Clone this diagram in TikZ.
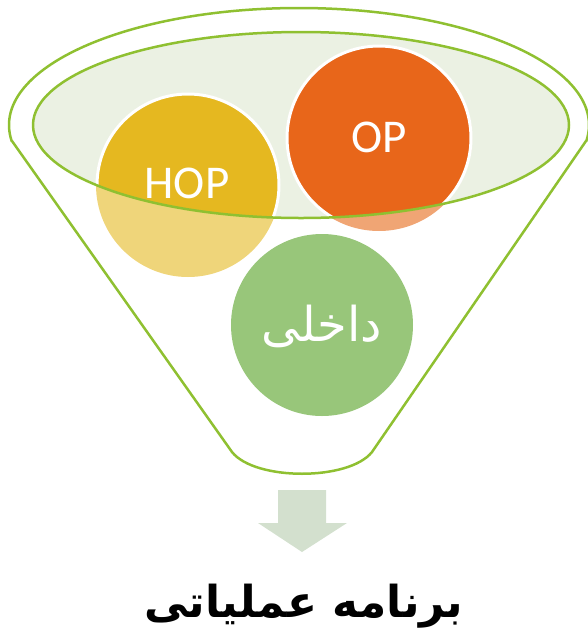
\documentclass[tikz,border=0pt]{standalone}
\usepackage{fontspec}
\setmainfont{Carlito}
\newfontfamily\arabicfont[Script=Arabic]{DejaVu Sans}
\TeXXeTstate=1
\definecolor{fgreen}{HTML}{8FC031}
\definecolor{efill}{HTML}{EBF1E3}
\definecolor{hopc}{HTML}{E5B820}
\definecolor{hoplight}{HTML}{EFD57A}
\definecolor{opc}{HTML}{E8661A}
\definecolor{oplight}{HTML}{F0A574}
\definecolor{innerc}{HTML}{98C67A}
\definecolor{arrowc}{HTML}{D3E0CE}
\begin{document}
\begin{tikzpicture}[x=1pt,y=-1pt,
  funnelline/.style={draw=fgreen,line width=2.5pt,line join=round},
  label/.style={text=white,inner sep=0pt,font=\fontsize{47}{50}\selectfont},
  arlabel/.style={text=white,inner sep=0pt,font=\arabicfont\fontsize{48}{52}\selectfont},
  title/.style={text=black,inner sep=0pt,font=\arabicfont\bfseries\fontsize{44}{50}\selectfont}]
\useasboundingbox (0,0) rectangle (588,638);
% coordinates
\coordinate (oc) at (299,125);
\coordinate (ic) at (301,125);
\coordinate (hc) at (188,185);
\coordinate (pc) at (379,138);
\coordinate (gc) at (322,325);
% outer funnel: upper arc of the outer ellipse
\begin{scope}
  \clip (0,0) rectangle (588,141);
  \draw[funnelline] (oc) ellipse [x radius=290pt, y radius=117pt];
\end{scope}
\draw[funnelline] (12,141) -- (232,452) .. controls (255,481) and (349,481) .. (372,452) -- (586,141);
% inner ellipse fill
\fill[efill] (ic) ellipse [x radius=268pt, y radius=93pt];
% green circle
\fill[innerc] (gc) circle [radius=91pt];
% light (outside) parts
\fill[hoplight] (hc) circle [radius=92pt];
\fill[oplight] (pc) circle [radius=93pt];
% full colour inside inner ellipse
\begin{scope}
  \clip (ic) ellipse [x radius=268pt, y radius=93pt];
  \filldraw[fill=hopc,draw=white,line width=3pt] (hc) circle [radius=91pt];
  \filldraw[fill=opc,draw=white,line width=3pt] (pc) circle [radius=92pt];
\end{scope}
\draw[funnelline] (ic) ellipse [x radius=268pt, y radius=93pt];
% labels
\node[label] (hop) at (187,183) {HOP};
\node[label] (op) at (379,137) {OP};
\node[arlabel] (dakheli) at (322,326) {\beginR داخلی\endR};
% arrow
\fill[arrowc] (278,490) -- (326,490) -- (326,523) -- (347,523) -- (302,552) -- (258,523) -- (278,523) -- cycle;
\node[title] (plan) at (304,606) {\beginR برنامه عملیاتی\endR};
\end{tikzpicture}
\end{document}
